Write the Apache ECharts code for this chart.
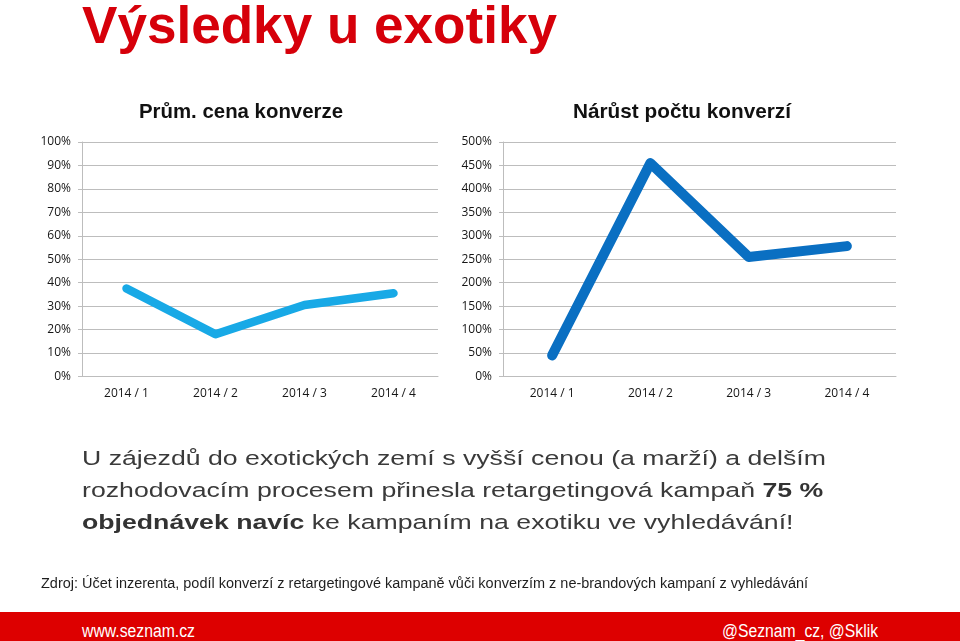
<!DOCTYPE html>
<html>
<head>
<meta charset="utf-8">
<script src="https://cdn.jsdelivr.net/npm/echarts@6/dist/echarts.min.js"></script>
<style>
  html, body { margin: 0; padding: 0; background: #fff; }
  #page { position: relative; width: 960px; height: 641px; overflow: hidden; }
  #chart { position: absolute; left: 0; top: 0; width: 960px; height: 641px; }
  .txt { position: absolute; white-space: nowrap; transform-origin: 0 0; }
  #head { left: 82px; top: 0px; font: bold 51px/51px 'Liberation Sans', Arial, sans-serif; color: #d6000a; }
  .ctitle { top: 99px; font: bold 21px/24px 'Liberation Sans Narrow', 'Liberation Sans', sans-serif; color: #111; }
  #body { left: 82px; top: 442px; font: 20.5px/32px 'Liberation Sans', Arial, sans-serif; color: #3a3a3a; }
  #body b { color: #333; }
  #src { left: 41px; top: 573px; font: 15.5px/20px 'Liberation Sans Narrow', 'Liberation Sans', sans-serif; color: #1e1e1e; }
  #foot { position: absolute; left: 0; top: 612px; width: 960px; height: 29px; background: #dd0000; }
  .ft { top: 620px; font: 18px/22px 'Liberation Sans Narrow', 'Liberation Sans', sans-serif; color: #fff; }
</style>
</head>
<body>
<div id="page">
  <div id="chart"></div>
  <div class="txt" id="head">Výsledky u exotiky</div>
  <div class="txt ctitle" id="t1">Prům. cena konverze</div>
  <div class="txt ctitle" id="t2">Nárůst počtu konverzí</div>
  <div class="txt" id="body">U zájezdů do exotických zemí s vyšší cenou (a marží) a delším<br>rozhodovacím procesem přinesla retargetingová kampaň <b>75 %</b><br><b>objednávek navíc</b> ke kampaním na exotiku ve vyhledávání!</div>
  <div class="txt" id="src">Zdroj: Účet inzerenta, podíl konverzí z retargetingové kampaně vůči konverzím z ne-brandových kampaní z vyhledávání</div>
  <div id="foot"></div>
  <div class="txt ft" id="f1">www.seznam.cz</div>
  <div class="txt ft" id="f2">@Seznam_cz, @Sklik</div>
</div>
<script>
// data
const categories = ['2014 / 1', '2014 / 2', '2014 / 3', '2014 / 4']
const cenaKonverze = [37.5, 18, 30.5, 35.5]      // Prům. cena konverze (%)
const narustKonverzi = [45, 455, 255, 278]       // Nárůst počtu konverzí (%)

// fit text boxes to the widths measured on the reference
function fit (id, left, width, centerX) {
  const el = document.getElementById(id)
  const w = el.getBoundingClientRect().width
  const s = width / w
  el.style.transform = 'scaleX(' + s + ')'
  el.style.left = (centerX ? centerX - width / 2 : left) + 'px'
}

const gridColor = '#bdbdbd'
const labelStyle = { fontFamily: 'Open Sans', fontSize: 12, color: '#161616' }

function yAxisOpt (gridIndex, max, interval) {
  return {
    type: 'value',
    gridIndex: gridIndex,
    min: 0,
    max: max,
    interval: interval,
    axisLine: { show: true, lineStyle: { color: gridColor } },
    axisTick: { show: true, length: 4, lineStyle: { color: gridColor } },
    axisLabel: Object.assign({ formatter: '{value}%', margin: 11 }, labelStyle),
    splitLine: { lineStyle: { color: gridColor } }
  }
}

function xAxisOpt (gridIndex) {
  return {
    type: 'category',
    gridIndex: gridIndex,
    data: categories,
    axisLine: { lineStyle: { color: gridColor } },
    axisTick: { length: 5, lineStyle: { color: gridColor } },
    axisLabel: Object.assign({ margin: 11 }, labelStyle)
  }
}

const myChart = echarts.init(document.getElementById('chart'), null, { renderer: 'canvas' })
const option = {
  animation: false,
  grid: [
    { left: 82, top: 142, width: 356, height: 234.5 },
    { left: 503, top: 142, width: 393, height: 234.5 }
  ],
  xAxis: [xAxisOpt(0), xAxisOpt(1)],
  yAxis: [yAxisOpt(0, 100, 10), yAxisOpt(1, 500, 50)],
  series: [
    {
      name: 'Prům. cena konverze',
      type: 'line',
      xAxisIndex: 0,
      yAxisIndex: 0,
      data: cenaKonverze,
      symbol: 'none',
      lineStyle: { color: '#18a9e6', width: 8.5, cap: 'round', join: 'round' }
    },
    {
      name: 'Nárůst počtu konverzí',
      type: 'line',
      xAxisIndex: 1,
      yAxisIndex: 1,
      data: narustKonverzi,
      symbol: 'none',
      lineStyle: { color: '#0a6fc2', width: 10, cap: 'round', join: 'round' }
    }
  ]
}
myChart.setOption(option)

fit('head', 82, 475)
fit('t1', 0, 204, 241)
fit('t2', 0, 218, 682)
fit('body', 82, 744)
fit('src', 41, 767)
fit('f1', 82, 113)
fit('f2', 722, 156)
</script>
</body>
</html>
